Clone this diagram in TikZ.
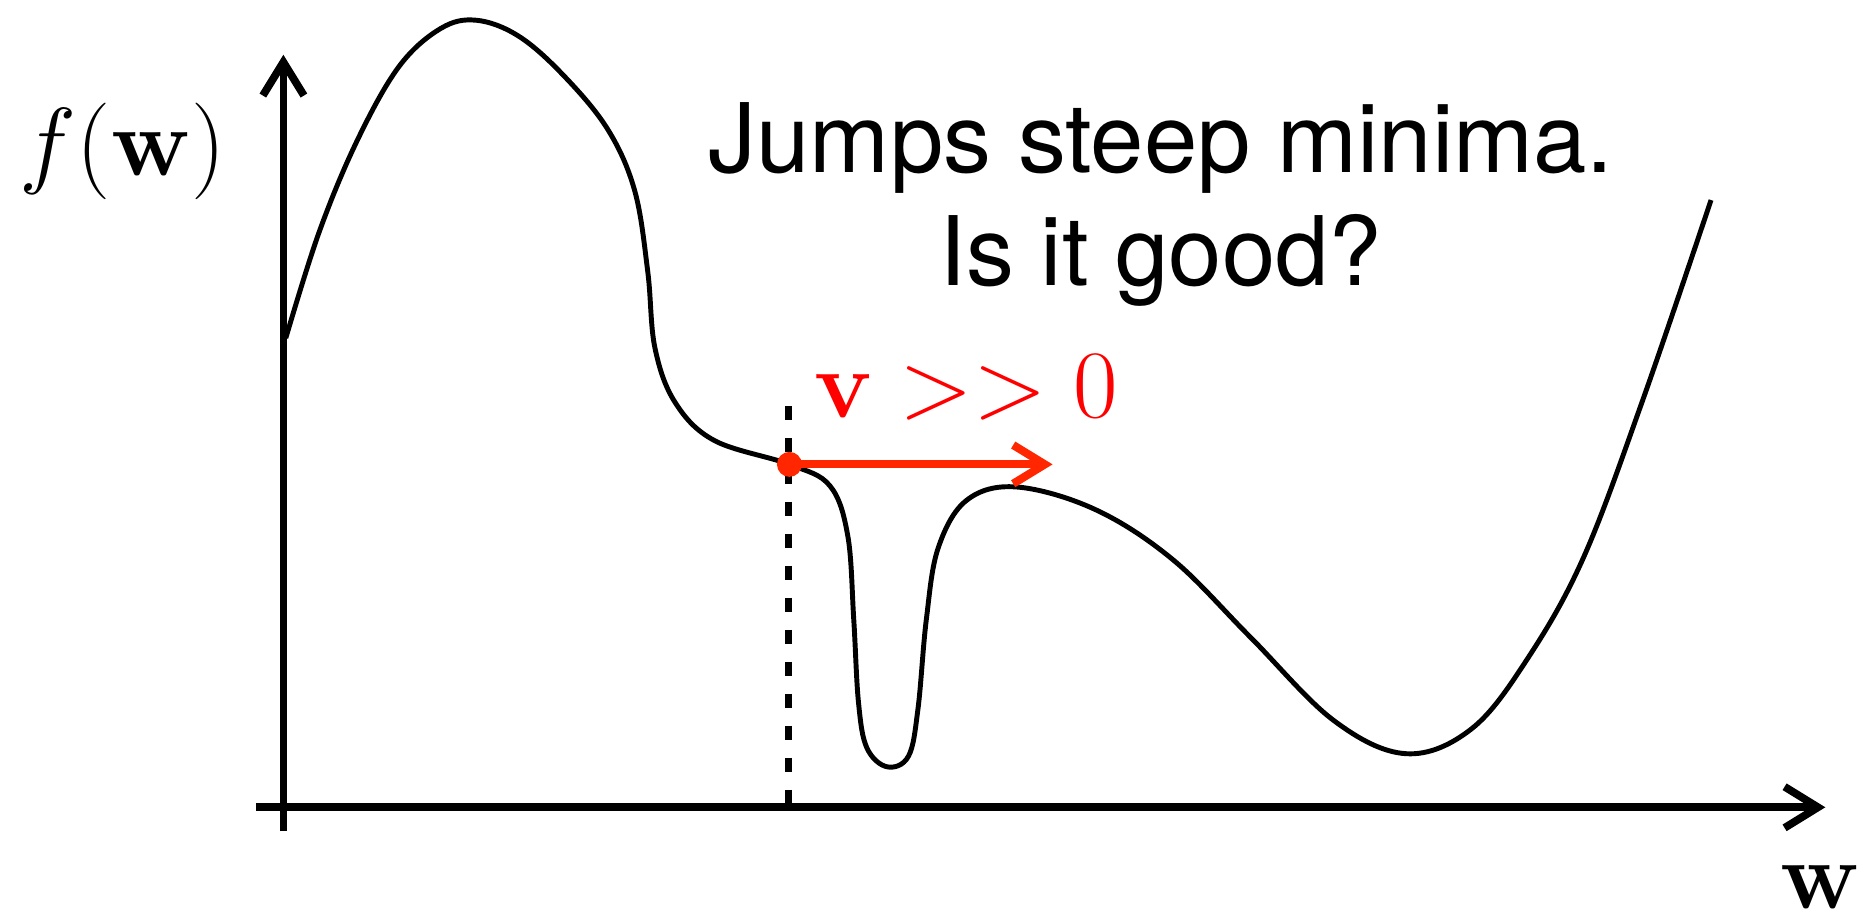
\documentclass[tikz,border=0pt]{standalone}
\usepackage{amsmath}
\usepackage[no-math]{fontspec}
\newfontfamily\helvfont{TeX Gyre Heros}
\usepackage{xcolor}
\usepackage{tikz}
\usetikzlibrary{arrows.meta,positioning,calc}

\definecolor{jumpred}{RGB}{255,38,0}

\begin{document}
\begin{tikzpicture}[
    x=0.11907mm, y=-0.11907mm,
    axis/.style={line width=2.2pt, -{Straight Barb[length=9.5pt,width=11.7pt]}},
    landscape/.style={line width=1.4pt, line join=round},
    guide/.style={line width=2pt, dash pattern=on 4pt off 5.1pt},
    v_arrow/.style={jumpred, line width=2.3pt, -{Straight Barb[length=9pt,width=11pt]}},
    v_dot/.style={circle, fill=jumpred, inner sep=0pt, minimum size=7.1pt},
    math_label/.style={inner sep=0pt, font=\Huge, scale=1.105},
    note/.style={inner sep=0pt, align=center, font=\helvfont\fontsize{27.3}{32.2}\selectfont}
]
    \useasboundingbox (0,0) rectangle (1568,774);

    % Axes
    \coordinate (y_bot) at (238,698);
    \coordinate (y_top) at (238,46);
    \coordinate (x_left) at (215,678);
    \coordinate (x_right) at (1533,678);
    \draw [axis] (y_bot) -- (y_top);
    \draw [axis] (x_left) -- (x_right);

    \node [math_label, anchor=base] (fw_label) at (103,147) {$f(\mathbf{w})$};
    \node [math_label, anchor=base] (w_label) at (1529,763) {$\mathbf{w}$};

    % Loss curve
    \draw [landscape] plot [smooth, tension=0.6] coordinates {
        (240,284) (268,195) (300,118) (335,56) (370,24) (400,17) (435,30)
        (472,62) (510,108) (533,160) (544,228) (550,292) (567,338) (600,370)
        (663,390) (697,408) (712,450) (717,520) (721,590) (728,628) (745,644)
        (763,635) (771,595) (778,520) (788,460) (812,420) (854,409) (920,428)
        (985,470) (1050,535) (1120,605) (1181,633) (1236,612) (1283,553)
        (1330,468) (1380,335) (1437,168)};

    % Current point and velocity
    \coordinate (dash_top) at (662,341);
    \coordinate (dash_bot) at (662,678);
    \draw [guide] (dash_top) -- (dash_bot);

    \node [v_dot] (jump_pt) at (663,390) {};
    \coordinate (v_tip) at (884,390);
    \draw [v_arrow] (jump_pt.center) -- (v_tip);

    \node [math_label, red, anchor=base west] (v_label) at (683,351) {$\mathbf{v} >> 0$};

    \node [note] (question) at (975,172) {Jumps steep minima.\\Is it good?};

\end{tikzpicture}
\end{document}
